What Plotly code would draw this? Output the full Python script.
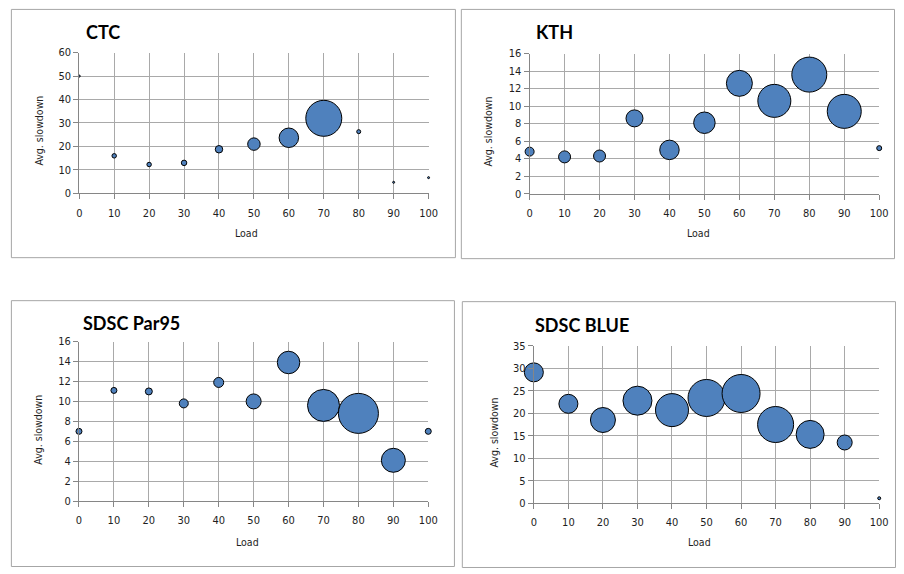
import plotly.graph_objects as go

W, H = 904, 574

# ---------------- data ----------------
loads = [0, 10, 20, 30, 40, 50, 60, 70, 80, 90, 100]

ctc_slowdown = [50.0, 16.0, 12.3, 13.0, 18.8, 21.0, 23.7, 32.0, 26.3, 4.7, 6.7]
ctc_size = [4, 20, 20, 30, 56, 156, 380, 1296, 16, 4, 4]

kth_slowdown = [4.8, 4.2, 4.3, 8.6, 5.0, 8.1, 12.6, 10.6, 13.6, 9.4, 5.2]
kth_size = [81, 144, 144, 289, 380, 462, 676, 1089, 1225, 1156, 25]

par95_slowdown = [7.0, 11.1, 11.0, 9.8, 11.9, 10.0, 13.9, 9.6, 8.8, 4.1, 7.0]
par95_size = [36, 36, 49, 81, 100, 225, 506, 1024, 1600, 576, 36]

blue_slowdown = [29.1, 22.1, 18.5, 22.8, 20.7, 23.4, 24.4, 17.5, 15.3, 13.5, 1.1]
blue_size = [361, 361, 625, 841, 1089, 1369, 1444, 1296, 784, 225, 9]

titles = ["CTC", "KTH", "SDSC Par95", "SDSC BLUE"]
x_title = "Load"
y_title = "Avg. slowdown"
x_ticks = [0, 10, 20, 30, 40, 50, 60, 70, 80, 90, 100]

# ---------------- layout (pixel geometry) ----------------
panels = [
    dict(y=ctc_slowdown, s=ctc_size, ymax=60, dtick=10,
         plot=(77.3, 431.3, 47.7, 191.7), maxd=36,
         box=(8.5, 458.5, 3.5, 257.5),
         title=(82, 27), ytitle=(37, 128), xtitle=(246.5, 232)),
    dict(y=kth_slowdown, s=kth_size, ymax=16, dtick=2,
         plot=(533.7, 888.0, 48.7, 192.0), maxd=35,
         box=(464.5, 903.5, 3.5, 258.5),
         title=(538, 27), ytitle=(492, 128), xtitle=(705, 232)),
    dict(y=par95_slowdown, s=par95_size, ymax=16, dtick=2,
         plot=(77.0, 431.0, 343.3, 506.7), maxd=40,
         box=(8.5, 457.5, 301.5, 573.5),
         title=(79, 324), ytitle=(36, 434), xtitle=(247.5, 548)),
    dict(y=blue_slowdown, s=blue_size, ymax=35, dtick=5,
         plot=(538.0, 888.0, 347.7, 508.7), maxd=38,
         box=(465.5, 904.5, 302.5, 574.5),
         title=(537, 326), ytitle=(498, 436), xtitle=(706, 548)),
]

def px(x):
    return x / W

def py(y):
    return 1 - y / H

FONT = "DejaVu Sans Condensed, DejaVu Sans"
TXT = "#1e1e1e"
GRID = "#a9a9a9"
AXIS = "#868686"

fig = go.Figure()
layout = dict(
    width=W, height=H,
    margin=dict(l=0, r=0, t=0, b=0),
    paper_bgcolor="white", plot_bgcolor="white",
    showlegend=False,
    font=dict(family=FONT, size=11, color=TXT),
    shapes=[], annotations=[],
)

for i, (p, t) in enumerate(zip(panels, titles)):
    n = "" if i == 0 else str(i + 1)
    x0, x1, yt, yb = p["plot"]
    sizeref = 2.0 * max(p["s"]) / (p["maxd"] ** 2)
    fig.add_trace(go.Scatter(
        x=loads, y=p["y"], mode="markers",
        xaxis="x" + n, yaxis="y" + n,
        cliponaxis=False,
        marker=dict(size=p["s"], sizemode="area", sizeref=sizeref, sizemin=1,
                    color="#4f81bd", line=dict(color="#000000", width=1),
                    opacity=1),
        hoverinfo="x+y",
    ))
    layout["xaxis" + n] = dict(
        domain=[px(x0), px(x1)], anchor="y" + n,
        range=[0, 100], tickvals=x_ticks, ticktext=[str(v) for v in x_ticks],
        showgrid=True, gridcolor=GRID, gridwidth=1,
        showline=True, linecolor=AXIS, linewidth=1,
        ticks="outside", ticklen=5, tickcolor=AXIS,
        zeroline=False, fixedrange=True,
        tickfont=dict(family=FONT, size=11, color=TXT),
        ticklabelstandoff=4,
    )
    layout["yaxis" + n] = dict(
        domain=[py(yb), py(yt)], anchor="x" + n,
        range=[0, p["ymax"]], dtick=p["dtick"], tick0=0,
        showgrid=True, gridcolor=GRID, gridwidth=1,
        showline=True, linecolor=AXIS, linewidth=1,
        ticks="outside", ticklen=5, tickcolor=AXIS,
        zeroline=False, fixedrange=True,
        tickfont=dict(family=FONT, size=11, color=TXT),
    )
    bx0, bx1, by0, by1 = p["box"]
    layout["shapes"].append(dict(
        type="rect", xref="paper", yref="paper",
        x0=px(bx0), x1=px(bx1), y0=py(by1), y1=py(by0),
        line=dict(color="#a6a6a6", width=1), fillcolor="rgba(0,0,0,0)",
        layer="below"))
    tx, ty = p["title"]
    layout["annotations"].append(dict(
        text="<b>" + t + "</b>", xref="paper", yref="paper",
        x=px(tx), y=py(ty), xanchor="left", yanchor="middle", showarrow=False,
        font=dict(family="Lato", size=18, color="#000000")))
    yx, yy = p["ytitle"]
    layout["annotations"].append(dict(
        text=y_title, xref="paper", yref="paper", textangle=-90,
        x=px(yx), y=py(yy), xanchor="center", yanchor="middle", showarrow=False,
        font=dict(family=FONT, size=10.5, color=TXT)))
    lx, ly = p["xtitle"]
    layout["annotations"].append(dict(
        text=x_title, xref="paper", yref="paper",
        x=px(lx), y=py(ly), xanchor="center", yanchor="middle", showarrow=False,
        font=dict(family=FONT, size=10.5, color=TXT)))

fig.update_layout(**layout)
fig.write_html("out.html")
